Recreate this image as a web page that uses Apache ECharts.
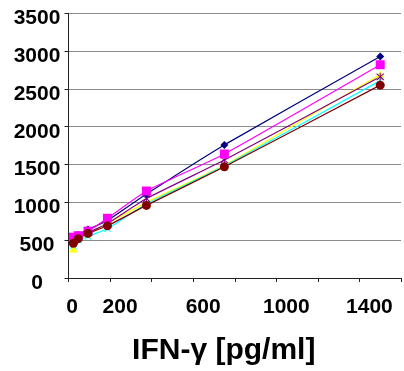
<!DOCTYPE html>
<html>
<head>
<meta charset="utf-8">
<script src="https://cdn.jsdelivr.net/npm/echarts@6/dist/echarts.min.js"></script>
<style>html,body{margin:0;padding:0;background:#fff}#c{width:404px;height:371px}</style>
</head>
<body>
<div id="c"></div>
<script>
var xValues = [23.4, 46.9, 93.75, 187.5, 375, 750, 1500];
var seriesNavy = [500, 570, 640, 760, 1110, 1760, 2930];
var seriesMagenta = [540, 560, 620, 790, 1150, 1640, 2820];
var seriesYellow = [390, 520, 590, 720, 1000, 1490, 2690];
var seriesCyan = [430, 500, 550, 650, 980, 1480, 2610];
var seriesPurple = [480, 540, 600, 720, 1050, 1560, 2660];
var seriesBrown = [460, 520, 590, 690, 960, 1470, 2550];
var xTickLabels = ['0', '200', '600', '1000', '1400'];
var yTickLabels = ['0', '500', '1000', '1500', '2000', '2500', '3000', '3500'];
var xTitle = 'IFN-\u03b3 [pg/ml]';

var FONT = "'Liberation Sans', Arial, sans-serif";
var X_PATH = 'path://M0,1 L1,0 L5,4 L9,0 L10,1 L6,5 L10,9 L9,10 L5,6 L1,10 L0,9 L4,5 Z';
var STAR_PATH = 'path://M0,1.5 L1,0.5 L5,4.3 L9,0.5 L10,1.5 L6,5 L10,8.5 L9,9.5 L5,5.7 L1,9.5 L0,8.5 L4,5 Z M4.4,0 L5.6,0 L5.6,10 L4.4,10 Z';

function pairs(vals) { return xValues.map(function (x, i) { return [x, vals[i]]; }); }
function mk(name, vals, color, symbol, size) {
  return {
    name: name, type: 'line', data: pairs(vals), smooth: 0.15,
    symbol: symbol, symbolSize: size,
    lineStyle: { color: color, width: 1.2 },
    itemStyle: { color: color },
    z: 3
  };
}
var chart = echarts.init(document.getElementById('c'));
chart.setOption({
  animation: false,
  backgroundColor: '#fff',
  grid: { left: 68.5, right: -5, top: 13.3, bottom: 90, containLabel: false },
  xAxis: {
    type: 'value', min: 0, max: 1600, interval: 200,
    name: xTitle, nameLocation: 'middle', nameGap: 58,
    nameTextStyle: { fontFamily: FONT, fontWeight: 'bold', fontSize: 30, color: '#000', padding: [0, 22, 0, 0] },
    axisLine: { show: true, lineStyle: { color: '#222', width: 1 } },
    axisTick: { show: true, length: 4, lineStyle: { color: '#222' } },
    splitLine: { show: false },
    axisLabel: {
      margin: 19, fontFamily: FONT, fontWeight: 'bold', fontSize: 21, color: '#000',
      formatter: function (v) {
        var s = String(v);
        if (xTickLabels.indexOf(s) < 0) return '';
        return (s === '0' ? '{a|' : '{b|') + s + '}';
      },
      rich: {
        a: { fontFamily: FONT, fontWeight: 'bold', fontSize: 21, color: '#000', padding: [0, 0, 0, 7] },
        b: { fontFamily: FONT, fontWeight: 'bold', fontSize: 21, color: '#000', padding: [0, 0, 0, 20] }
      }
    }
  },
  yAxis: {
    type: 'value', min: 0, max: 3500, interval: 500,
    axisLine: { show: true, lineStyle: { color: '#222', width: 1 } },
    axisTick: { show: true, length: 4, lineStyle: { color: '#222' } },
    splitLine: { show: true, lineStyle: { color: '#8c8c8c', width: 1 } },
    axisLabel: {
      margin: 31.5, align: 'center', verticalAlign: 'middle',
      fontFamily: FONT, fontWeight: 'bold', fontSize: 21, color: '#000',
      formatter: function (v) { var s = String(v); return yTickLabels.indexOf(s) >= 0 ? '{v|' + s + '}' : ''; },
      rich: {
        v: { fontFamily: FONT, fontWeight: 'bold', fontSize: 21, color: '#000', padding: [10, 0, 0, 0] }
      }
    }
  },
  series: [
    mk('A', seriesYellow, '#FFFF00', 'triangle', 8),
    mk('B', seriesCyan, '#00FFFF', X_PATH, 7),
    mk('C', seriesPurple, '#800080', STAR_PATH, 8),
    mk('D', seriesNavy, '#000080', 'diamond', 8),
    mk('E', seriesMagenta, '#FF00FF', 'rect', 9),
    mk('F', seriesBrown, '#800000', 'circle', 9)
  ]
});
</script>
</body>
</html>
